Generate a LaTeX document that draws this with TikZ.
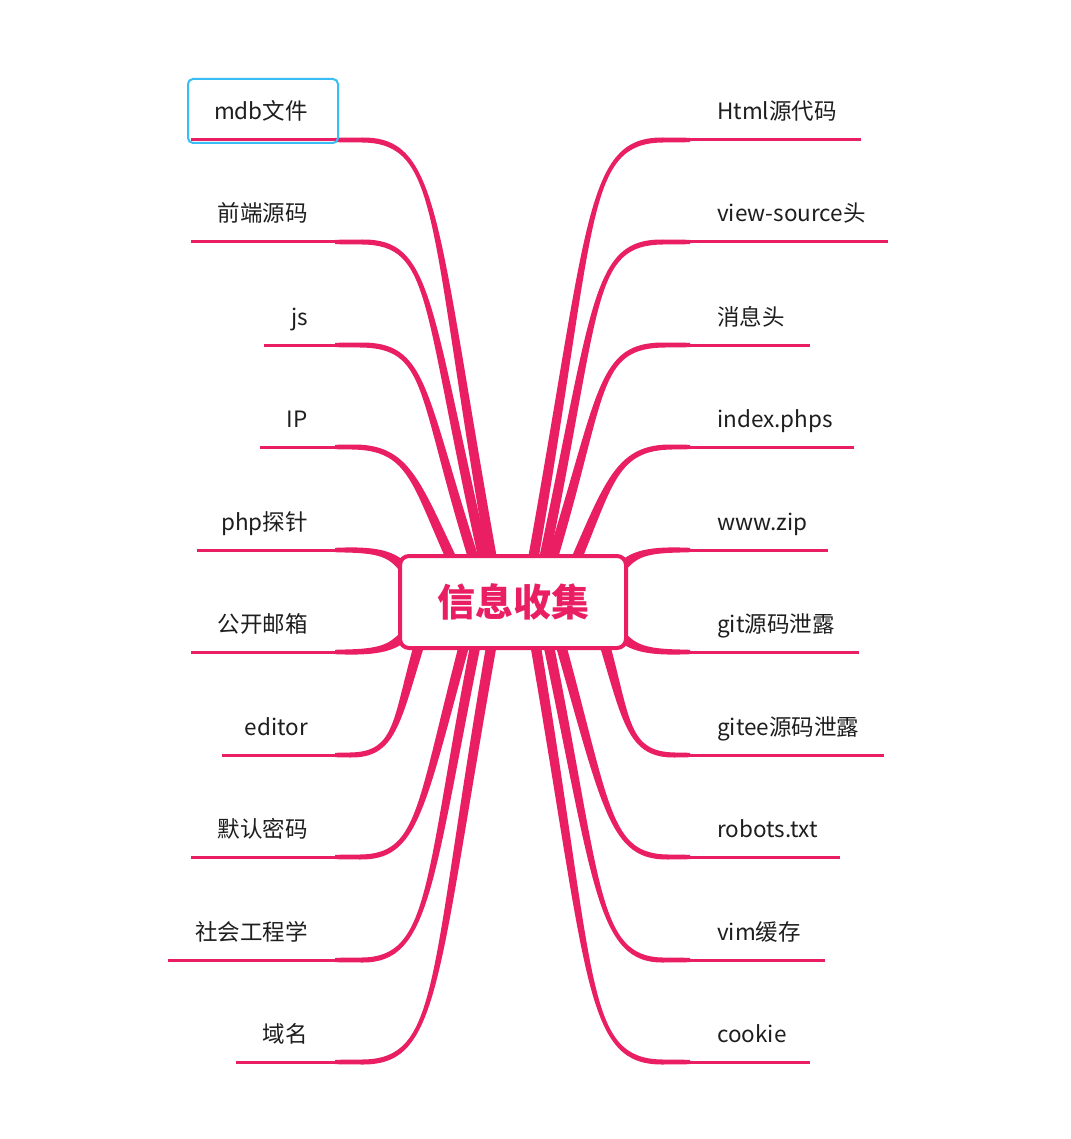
\documentclass[tikz,border=0pt]{standalone}
\usepackage{fontspec}
\setmainfont{Noto Sans CJK SC}
\usetikzlibrary{calc}
\definecolor{pk}{RGB}{233,30,99}
\definecolor{sel}{RGB}{56,190,245}
\definecolor{tx}{RGB}{30,30,30}
% #1 name, #2 leaf end, #3 knee, #4 control 1, #5 control 2, #6 end inside the root box
\newcommand\brnch[6]{%
  \coordinate (#1a) at (#2); \coordinate (#1k) at (#3);
  \coordinate (#1b) at (#4); \coordinate (#1c) at (#5); \coordinate (#1d) at (#6);
  \fill[pk] ($(#1a)!2.2pt!90:(#1k)$) -- ($(#1k)!2.5pt!-90:(#1a)$)
    .. controls ($(#1b)!3.2pt!-90:(#1k)$) and ($(#1c)!4.2pt!90:(#1d)$) .. ($(#1d)!5.2pt!-90:(#1c)$)
    -- ($(#1d)!5.2pt!90:(#1c)$)
    .. controls ($(#1c)!4.2pt!-90:(#1d)$) and ($(#1b)!3.2pt!90:(#1k)$) .. ($(#1k)!2.5pt!90:(#1a)$)
    -- ($(#1a)!2.2pt!-90:(#1k)$) -- cycle;}
\tikzset{
  ul/.style={draw=pk, line width=3pt},
  lbl/.style={text=tx, inner sep=0pt, font=\fontsize{22.5}{26}\selectfont},
  rootbox/.style={draw=pk, line width=4pt, fill=white, rounded corners=9pt,
    minimum width=226pt, minimum height=92pt, inner sep=0pt,
    text=pk, font=\fontsize{38}{44}\selectfont\bfseries},
}
\begin{document}
\begin{tikzpicture}[x=1pt,y=-1pt]
\useasboundingbox[fill=white] (0,0) rectangle (1070,1139);
% left branches
\brnch{L1}{335,140}{362,140}{440,140}{432,220}{492,560}
\brnch{L2}{335,242}{362,242}{432,242}{425,300}{484,560}
\brnch{L3}{335,345}{360,345}{428,345}{420,390}{474,560}
\brnch{L4}{335,447}{352,447}{408,447}{415,480}{452,560}
\brnch{L5}{335,550}{345,550}{378,550}{392,554}{404,568}
\brnch{L6}{335,652}{345,652}{378,652}{392,648}{404,636}
\brnch{L7}{335,755}{350,755}{396,755}{396,722}{420,642}
\brnch{L8}{335,857}{360,857}{418,857}{420,810}{465,642}
\brnch{L9}{335,960}{362,960}{430,960}{428,885}{476,642}
\brnch{L10}{335,1062}{362,1062}{440,1062}{432,985}{492,642}
% right branches
\brnch{R1}{690,140}{663,140}{585,140}{593,220}{533,560}
\brnch{R2}{690,242}{663,242}{592,242}{598,300}{544,560}
\brnch{R3}{690,345}{665,345}{597,345}{604,390}{552,560}
\brnch{R4}{690,447}{672,447}{618,447}{610,480}{576,560}
\brnch{R5}{690,550}{680,550}{647,550}{633,554}{621,568}
\brnch{R6}{690,652}{680,652}{647,652}{633,648}{621,636}
\brnch{R7}{690,755}{675,755}{628,755}{627,722}{604,642}
\brnch{R8}{690,857}{668,857}{610,857}{607,810}{560,642}
\brnch{R9}{690,960}{663,960}{597,960}{598,885}{548,642}
\brnch{R10}{690,1062}{663,1062}{585,1062}{593,985}{535,642}
% root
\node[rootbox] (root) at (513,602) {信息收集};
% left labels and underlines
\foreach \t/\y/\xs [count=\i] in {mdb文件/140/191, 前端源码/242/191, js/345/264, IP/447/260, php探针/550/197, 公开邮箱/652/191, editor/755/222, 默认密码/857/191, 社会工程学/960/168, 域名/1062/236}{
  \draw[ul] (\xs,\y) -- (L\i a);
  \node[lbl, anchor=base east] (l\i) at (308,\y-20) {\t};
}
% right labels and underlines
\foreach \t/\y/\xe [count=\i] in {Html源代码/140/861, view-source头/242/888, 消息头/345/810, index.phps/447/854, www.zip/550/828, git源码泄露/652/859, gitee源码泄露/755/884, robots.txt/857/840, vim缓存/960/825, cookie/1062/810}{
  \draw[ul] (R\i a) -- (\xe,\y);
  \node[lbl, anchor=base west] (r\i) at (717,\y-20) {\t};
}
% selection frame
\draw[sel, line width=2pt, rounded corners=5pt] (188,79) rectangle (338,143);
\end{tikzpicture}
\end{document}
